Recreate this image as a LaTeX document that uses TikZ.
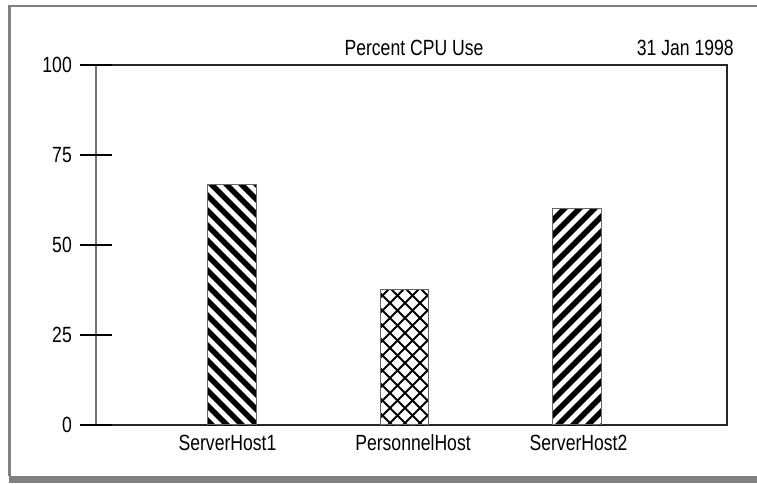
\documentclass[tikz,border=0pt]{standalone}
\usepackage{fontspec}
\setmainfont{Liberation Sans}[FakeStretch=0.8]
\begin{document}
\begin{tikzpicture}[x=1pt,y=1pt,
  axisline/.style={draw=black!85,line width=1.1pt},
  tickline/.style={draw=black,line width=1.1pt},
  barbox/.style={draw=black!60,line width=0.9pt},
  stripe/.style={line width=5.4pt,line cap=butt},
  cross/.style={line width=1.8pt,line cap=butt},
  lbl/.style={inner sep=0pt,font=\fontsize{22}{26}\selectfont},
]
% canvas
\useasboundingbox (0,0) rectangle (757,483);
\fill[white] (0,0) rectangle (757,483);

% window frame: left and top rules, heavy bottom band
\fill[black!50] (8,7) rectangle (11,478);
\fill[black!50] (8,475.5) rectangle (757,478);
\fill[black!50] (9,0) rectangle (757,7);

% plot area (value v sits at y = 58 + 3.6 v)
\coordinate (bl) at (96,58);
\coordinate (tr) at (727,418);
\draw[axisline] (bl) -- (727,58) -- (tr) -- (96,418);
\draw[draw=black!55,line width=1.1pt] (bl) -- (96,418);

% y-axis ticks and labels
\foreach \v/\nm in {0/t0,25/t25,50/t50,75/t75,100/t100}{
  \coordinate (\nm) at (80,58+3.6*\v);
  \draw[tickline] (\nm) -- ++(32,0);
  \node[lbl,anchor=base east] (l\nm) at (72,58+3.6*\v-7.5) {\v};
}

% ServerHost1: stripes falling to the right
\begin{scope}
  \clip (207,58) rectangle (256,298);
  \foreach \c in {195,210,...,600}{
    \draw[stripe] (\c-400,400) -- (\c,0);
  }
\end{scope}
\node[barbox,minimum width=49pt,minimum height=240pt,inner sep=0pt,anchor=south west] (bar1) at (207,58) {};

% PersonnelHost: cross hatch
\begin{scope}
  \clip (380,58) rectangle (428,193);
  \foreach \c in {420,435,...,640}{
    \draw[cross] (\c-400,400) -- (\c,0);
  }
  \foreach \c in {-390,-375,...,-160}{
    \draw[cross] (300,300+\c) -- (500,500+\c);
  }
\end{scope}
\node[barbox,minimum width=48pt,minimum height=135pt,inner sep=0pt,anchor=south west] (bar2) at (380,58) {};

% ServerHost2: stripes rising to the right
\begin{scope}
  \clip (552,58) rectangle (601,274);
  \foreach \c in {-560,-545,...,-250}{
    \draw[stripe] (450,450+\c) -- (700,700+\c);
  }
\end{scope}
\node[barbox,minimum width=49pt,minimum height=216pt,inner sep=0pt,anchor=south west] (bar3) at (552,58) {};

% category labels
\node[lbl,anchor=base] (c1) at (227.5,33) {ServerHost1};
\node[lbl,anchor=base] (c2) at (413,33) {PersonnelHost};
\node[lbl,anchor=base] (c3) at (578.5,33) {ServerHost2};

% title and date
\node[lbl,anchor=base] (title) at (414,427) {Percent CPU Use};
\node[lbl,anchor=base east] (date) at (734,427) {31 Jan 1998};
\end{tikzpicture}
\end{document}
